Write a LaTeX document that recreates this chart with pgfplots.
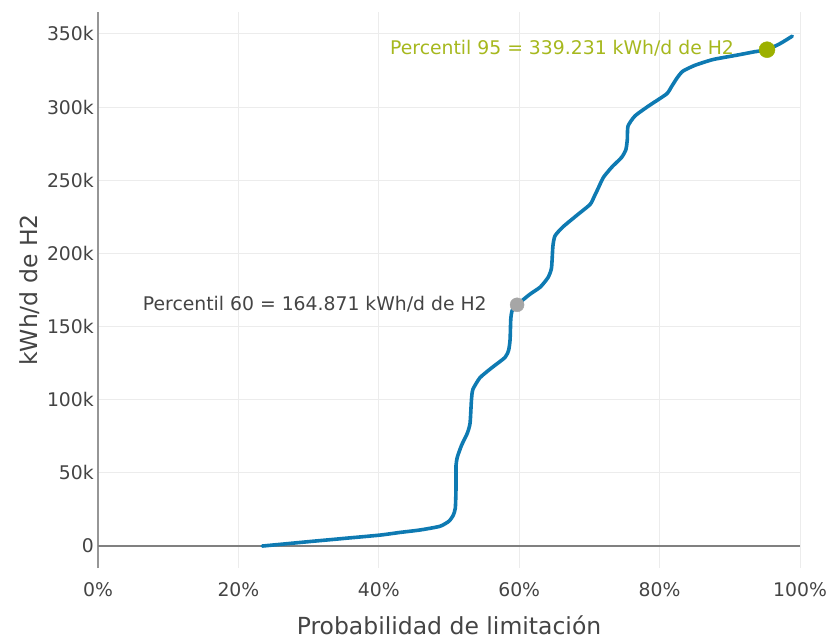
\documentclass[border=0pt]{standalone}
\usepackage{fontspec}
\setmainfont{DejaVu Sans}
\usepackage{pgfplots}
\pgfplotsset{compat=1.18}
\definecolor{lineblue}{RGB}{14,122,178}
\definecolor{gridgray}{RGB}{236,236,236}
\definecolor{zerogray}{RGB}{128,128,128}
\definecolor{axgray}{RGB}{150,150,150}
\definecolor{labelgray}{RGB}{68,68,68}
\definecolor{pgreen}{RGB}{156,176,0}
\definecolor{ptext}{RGB}{166,184,30}
\definecolor{pgray}{RGB}{166,166,166}
\begin{document}
\begin{tikzpicture}
\begin{axis}[name=ax, scale only axis, width=702bp, height=556bp,
 xmin=0, xmax=100, ymin=-15000, ymax=365000,
 axis x line*=bottom, axis y line*=left,
 x axis line style={draw=none},
 y axis line style={draw=axgray, line width=2.5bp, -},
 xtick={0,20,...,100}, xticklabels={0\%,20\%,40\%,60\%,80\%,100\%},
 ytick={0,50000,...,350000}, yticklabels={0,50k,100k,150k,200k,250k,300k,350k},
 scaled y ticks=false,
 major tick length=0pt,
 grid=major, major grid style={draw=gridgray, line width=1bp},
 extra y ticks={0}, extra y tick labels={},
 extra y tick style={major grid style={draw=zerogray, line width=2bp}},
 tick label style={font=\fontsize{18.8bp}{22bp}\selectfont, text=labelgray},
 xticklabel style={anchor=center, yshift=-22bp},
 yticklabel style={anchor=east, inner sep=0pt, xshift=-4bp},
 every axis y label/.style={at={(axis description cs:0,0.5)}, xshift=-68bp, rotate=90, anchor=center, font=\fontsize{23.5bp}{26bp}\selectfont, text=labelgray},
 every axis x label/.style={at={(axis description cs:0.5,0)}, yshift=-57bp, anchor=center, font=\fontsize{23.5bp}{26bp}\selectfont, text=labelgray},
 xlabel={Probabilidad de limitación},
 ylabel={kWh/d de H2},
 clip=false,
]
\addplot[lineblue, line width=3.6bp, line join=round, line cap=round, smooth, tension=0.35] coordinates {
(23.4,0) (30,3000) (35,5200) (40.2,7500) (43,9300) (45.9,11000) (48.7,13500) (50.0,17000) (50.6,21000)
(50.9,26000) (51.0,40000) (51.0,55000) (51.2,61000) (51.8,69000) (52.6,77000) (53.0,84000)
(53.2,100000) (53.4,107000) (54.4,115000) (56.0,121500) (58.0,129000) (58.5,134000) (58.7,141000)
(58.8,155000) (59.0,161000) (59.7,164871) (61.5,172000) (63.0,177000) (64.1,183500) (64.6,190000)
(64.8,205000) (65.1,212000) (66.2,218000) (68.2,226000) (70.1,233500) (70.7,239000) (71.2,244000)
(72.0,252000) (73.2,259000) (74.6,265700) (75.2,271000) (75.4,278000) (75.5,287000) (76.5,294000)
(78.5,301000) (81.0,309000) (81.7,314000) (82.5,320000) (83.3,324500) (85.0,328500) (87.6,332500)
(91.0,335500) (93.5,337800) (95.3,339231) (97.2,343500) (98.9,348500)
};
\addplot[only marks, mark=*, mark size=7bp, mark options={solid, draw=pgray, fill=pgray, line width=0.4bp}] coordinates {(59.7,164871)};
\addplot[only marks, mark=*, mark size=8bp, mark options={solid, draw=pgreen, fill=pgreen, line width=0.4bp}] coordinates {(95.3,339231)};
\node[anchor=east, inner sep=0pt, text=labelgray, font=\fontsize{18.8bp}{22bp}\selectfont] at (axis cs:55.4,165500) {Percentil 60 = 164.871 kWh/d de H2};
\node[anchor=west, inner sep=0pt, text=ptext, font=\fontsize{18.8bp}{22bp}\selectfont] at (axis cs:41.6,340500) {Percentil 95 = 339.231 kWh/d de H2};
\end{axis}
\pgfresetboundingbox
\path[use as bounding box] ([xshift=-98bp,yshift=12bp]ax.north west) rectangle ([xshift=34bp,yshift=-72bp]ax.south east);
\end{tikzpicture}
\end{document}
